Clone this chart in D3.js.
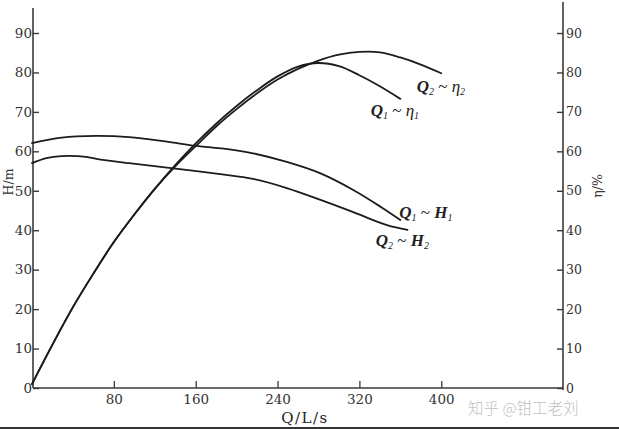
<!DOCTYPE html>
<html>
<head>
<meta charset="utf-8">
<script src="https://cdn.jsdelivr.net/npm/d3@7"></script>
<style>
  html, body { margin: 0; padding: 0; background: #fff; }
  svg { display: block; }
</style>
</head>
<body>
<script>
// flow Q (L/s) and the curves
const qEta1 = [0, 20, 40, 60, 80, 100, 120, 140, 160, 180, 200, 220, 240, 260, 280, 300, 320, 340, 360]
const eta1  = [1, 11, 20.5, 29, 37, 44, 50.5, 56.5, 62, 67, 71.5, 75.5, 79, 81.5, 82.4, 81.6, 79.3, 76.5, 73.3]

const qEta2 = [0, 20, 40, 60, 80, 100, 120, 140, 160, 180, 200, 220, 240, 260, 280, 300, 320, 340, 360, 380, 400]
const eta2  = [1, 11, 20.5, 29, 37, 44, 50.5, 56.2, 61.3, 66.3, 70.7, 74.7, 78.2, 80.9, 83, 84.5, 85.2, 85.1, 83.8, 82, 79.8]

const qH1 = [0, 29, 63, 95, 128, 154, 193, 216, 249, 282, 314, 341, 360]
const h1  = [62.1, 63.5, 63.9, 63.6, 62.6, 61.6, 60.5, 59.5, 57.3, 54.4, 50.2, 45.9, 42.6]

const qH2 = [0, 14, 29, 53, 63, 95, 134, 184, 216, 249, 282, 314, 347, 367]
const h2  = [57, 58.3, 58.8, 58.6, 58.1, 57, 55.8, 54.2, 53, 50.7, 47.7, 44.6, 41.3, 40.1]

const xTicks = [80, 160, 240, 320, 400]
const yTicks = [0, 10, 20, 30, 40, 50, 60, 70, 80, 90]

// curve labels, placed at (Q, value)
const curveLabels = [
	{ q: 376, v: 75, a: 'Q', as: '2', b: 'η', bs: '2' },
	{ q: 331, v: 69, a: 'Q', as: '1', b: 'η', bs: '1' },
	{ q: 359, v: 43, a: 'Q', as: '1', b: 'H', bs: '1' },
	{ q: 336, v: 36, a: 'Q', as: '2', b: 'H', bs: '2' }
]

const width = 619
const height = 429
const ink = '#1c1c1c'
const axisInk = '#3a3a3a'
const serif = '"DejaVu Serif", "Liberation Serif", serif'

const svg = d3.select('body')
	.append('svg')
	.attr('width', width)
	.attr('height', height)

const xScale = d3.scaleLinear()
	.domain([0, 519])
	.range([32, 563])

const yScale = d3.scaleLinear()
	.domain([0, 90])
	.range([388, 33])

const x0 = 33
const xRight = 563

// left axis (H/m)
svg.append('line')
	.attr('x1', x0).attr('x2', x0)
	.attr('y1', 8).attr('y2', yScale(0))
	.attr('stroke', axisInk).attr('stroke-width', 1.6)

const leftAxis = svg.append('g')
	.attr('transform', `translate(${x0}, 0)`)
	.call(d3.axisRight(yScale).tickValues(yTicks).tickSize(6).tickFormat(d3.format('d')))

leftAxis.select('.domain').remove()
leftAxis.selectAll('.tick line').attr('stroke', axisInk).attr('stroke-width', 1.4)
leftAxis.selectAll('.tick text')
	.attr('x', -1)
	.attr('text-anchor', 'end')
	.attr('font-family', serif)
	.attr('font-size', 13.5)
	.attr('fill', '#333')

// right axis (eta/%)
svg.append('line')
	.attr('x1', xRight).attr('x2', xRight)
	.attr('y1', 2).attr('y2', yScale(0) + 2)
	.attr('stroke', axisInk).attr('stroke-width', 1.6)

const rightAxis = svg.append('g')
	.attr('transform', `translate(${xRight}, 0)`)
	.call(d3.axisLeft(yScale).tickValues(yTicks).tickSize(6).tickFormat(d3.format('d')))

rightAxis.select('.domain').remove()
rightAxis.selectAll('.tick line').attr('stroke', axisInk).attr('stroke-width', 1.4)
rightAxis.selectAll('.tick text')
	.attr('x', 3)
	.attr('text-anchor', 'start')
	.attr('font-family', serif)
	.attr('font-size', 12.5)
	.attr('fill', '#333')

// x axis
svg.append('line')
	.attr('x1', x0).attr('x2', xRight)
	.attr('y1', yScale(0)).attr('y2', yScale(0))
	.attr('stroke', axisInk).attr('stroke-width', 1.6)

const bottomAxis = svg.append('g')
	.attr('transform', `translate(0, ${yScale(0)})`)
	.call(d3.axisTop(xScale).tickValues(xTicks).tickSize(7))

bottomAxis.select('.domain').remove()
bottomAxis.selectAll('.tick line').attr('stroke', axisInk).attr('stroke-width', 1.3)
bottomAxis.selectAll('.tick text')
	.attr('y', 4)
	.attr('dy', '0.9em')
	.attr('font-family', serif)
	.attr('font-size', 13.5)
	.attr('fill', '#333')

// axis titles
svg.append('text')
	.attr('transform', `translate(13, 182) rotate(-90)`)
	.attr('text-anchor', 'middle')
	.attr('font-family', serif)
	.attr('font-size', 12.5)
	.attr('fill', '#333')
	.text('H/m')

svg.append('text')
	.attr('transform', `translate(602, 186) rotate(-90)`)
	.attr('text-anchor', 'middle')
	.attr('font-family', serif)
	.attr('font-size', 12.5)
	.attr('fill', '#333')
	.text('η/%')

svg.append('text')
	.attr('x', 305)
	.attr('y', 423)
	.attr('text-anchor', 'middle')
	.attr('font-family', serif)
	.attr('font-size', 15)
	.attr('letter-spacing', 1.5)
	.attr('fill', '#222')
	.text('Q/L/s')

// curves
const line = d3.line()
	.x(d => xScale(d[0]))
	.y(d => yScale(d[1]))
	.curve(d3.curveCatmullRom.alpha(0.5))

const series = [
	d3.zip(qEta1, eta1),
	d3.zip(qEta2, eta2),
	d3.zip(qH1, h1),
	d3.zip(qH2, h2)
]

svg.append('g')
	.selectAll('path')
	.data(series)
	.join('path')
		.attr('d', line)
		.attr('fill', 'none')
		.attr('stroke', ink)
		.attr('stroke-width', 1.8)
		.attr('stroke-linecap', 'round')

// curve labels
const lbl = svg.append('g')
	.selectAll('text')
	.data(curveLabels)
	.join('text')
		.attr('x', d => xScale(d.q))
		.attr('y', d => yScale(d.v))
		.attr('font-family', '"Liberation Serif", serif')
		.attr('font-style', 'italic')
		.attr('font-size', 17)
		.attr('fill', '#222')

lbl.append('tspan').attr('font-weight', 'bold').text(d => d.a)
lbl.append('tspan').attr('font-size', 10).attr('dy', 3).text(d => d.as)
lbl.append('tspan').attr('dy', -3).attr('font-style', 'normal').text(' ~ ')
lbl.append('tspan').attr('font-weight', d => d.b === 'H' ? 'bold' : 'normal').text(d => d.b)
lbl.append('tspan').attr('font-size', 10).attr('dy', 3).text(d => d.bs)

// watermark
svg.append('text')
	.attr('x', 468)
	.attr('y', 414)
	.attr('font-family', '"Noto Sans CJK SC", sans-serif')
	.attr('font-size', 15.5)
	.attr('font-weight', 300)
	.attr('fill', '#c2c2c2')
	.text('知乎 @钳工老刘')

// dark band at the bottom of the scan
svg.append('rect')
	.attr('x', 0)
	.attr('y', 427)
	.attr('width', width)
	.attr('height', 2)
	.attr('fill', '#333')
</script>
</body>
</html>
